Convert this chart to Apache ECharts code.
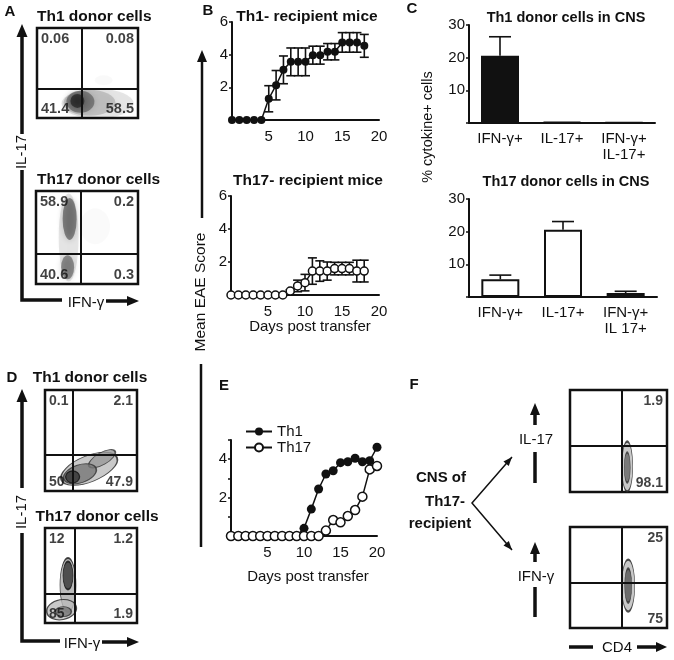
<!DOCTYPE html>
<html><head><meta charset="utf-8">
<script src="https://cdn.jsdelivr.net/npm/echarts@6/dist/echarts.min.js"></script>
<style>html,body{margin:0;padding:0;background:#fff}#c{width:674px;height:660px}</style>
</head><body><div id="c"></div>
<script>
const FONT = '"Liberation Sans", Arial, Helvetica, sans-serif';
const BLACK = '#111';

// ---------- Panel B: mean EAE score, days 0..18 ----------
const daysB = [0,1,2,3,4,5,6,7,8,9,10,11,12,13,14,15,16,17,18];
const th1Recip    = [0,0,0,0,0,1.3,2.13,3.07,3.56,3.56,3.56,3.97,3.97,4.18,4.18,4.75,4.75,4.75,4.54];
const th1RecipErr = [0,0,0,0,0,0.8,0.9,0.85,0.85,0.85,0.85,0.55,0.55,0.5,0.5,0.6,0.6,0.6,0.7];
const th17Recip    = [0,0,0,0,0,0,0,0,0.24,0.55,0.75,1.45,1.45,1.45,1.6,1.6,1.6,1.45,1.45];
const th17RecipErr = [0,0,0,0,0,0,0,0,0.08,0.35,0.5,0.8,0.62,0.55,0.38,0.38,0.38,0.66,0.66];

// ---------- Panel C: % cytokine+ cells ----------
const cytoCats1 = ['IFN-γ+','IL-17+','IFN-γ+\nIL-17+'];
const cytoCats2 = ['IFN-γ+','IL-17+','IFN-γ+\nIL 17+'];
const th1Cns     = [20.6, 0.3, 0.15];
const th1CnsErr  = [5.8, 0, 0];
const th17Cns    = [5.4, 20.6, 1.2];
const th17CnsErr = [1.3, 2.5, 0.55];

// ---------- Panel E: days 0..20 ----------
const daysE = [0,1,2,3,4,5,6,7,8,9,10,11,12,13,14,15,16,17,18,19,20];
const eTh1  = [0,0,0,0,0,0,0,0,0,0,0.4,1.4,2.45,3.23,3.4,3.82,3.87,4.05,3.87,3.92,4.62];
const eTh17 = [0,0,0,0,0,0,0,0,0,0,0,0,0,0.28,0.83,0.71,1.04,1.35,2.05,3.47,3.65];

// ---------- Flow plots: quadrant % [UL, UR, LL, LR], gates [x, y] ----------
const qA1 = ['0.06','0.08','41.4','58.5'];
const qA2 = ['58.9','0.2','40.6','0.3'];
const qD1 = ['0.1','2.1','50','47.9'];
const qD2 = ['12','1.2','85','1.9'];
const qF1 = [null,'1.9',null,'98.1'];
const qF2 = [null,'25',null,'75'];
const gateA1 = [44.5, 32], gateA2 = [43.7, 32], gateD1 = [30, 35.6], gateD2 = [32.6, 31], gateF1 = [53.6, 45], gateF2 = [53.6, 44.6];

// approximate population shapes: [x, y, w, h, rotate, fill, stroke]
const cloudA1 = [[60,16,72,30,0,'rgba(0,0,0,0.12)'],[52,17,52,26,0,'rgba(0,0,0,0.18)'],[43,18,28,22,0,'rgba(0,0,0,0.4)'],[40,19,14,14,0,'rgba(0,0,0,0.6)'],[66,42,18,10,0,'rgba(0,0,0,0.03)']];
const cloudA2 = [[32,50,20,88,0,'rgba(0,0,0,0.12)'],[33,70,14,42,0,'rgba(0,0,0,0.5)'],[31,18,13,24,0,'rgba(0,0,0,0.45)'],[58,62,30,36,0,'rgba(0,0,0,0.025)']];
const cloudD1 = [[48,22,60,26,22,'#bbb','#222'],[62,32,30,12,30,'#999','#333'],[38,17,34,18,18,'#777','#333'],[30,14,14,12,0,'#333','#111']];
const cloudD2 = [[25,40,16,54,0,'#aaa','#111'],[18,14,30,20,10,'#bbb','#222'],[20,12,16,10,0,'#777','#333'],[25,50,10,28,0,'#333','#111']];
const cloudF1 = [[59,25,11,50,0,'#bbb','#222'],[59,24,6,30,0,'#666','#333']];
const cloudF2 = [[60,42,13,52,0,'#bbb','#222'],[60,42,7,34,0,'#555','#333']];

const grids = [
  {left:37,top:28,width:101,height:90},    // 0 A1
  {left:36,top:191,width:102,height:93},   // 1 A2
  {left:45,top:390,width:92,height:101},   // 2 D1
  {left:45,top:528,width:92,height:95},    // 3 D2
  {left:570,top:390,width:97,height:102},  // 4 F1
  {left:570,top:527,width:97,height:101},  // 5 F2
  {left:232,top:22,width:147,height:98},   // 6 B1
  {left:231,top:196,width:148,height:99},  // 7 B2
  {left:469,top:25,width:186,height:98},   // 8 C1
  {left:469,top:199,width:188,height:98},  // 9 C2
  {left:231,top:440,width:146,height:96}   // 10 E
];
const xAxes = [], yAxes = [], series = [];
const gridOpts = grids.map((g,i)=> Object.assign({containLabel:false}, g, i<6 ? {show:true,borderColor:BLACK,borderWidth:2.5} : {}));

const lab = {color:BLACK, fontSize:15, fontFamily:FONT};
function flow(gi, quad, gate, cloud, fs, blur){
  xAxes[gi] = {gridIndex:gi, type:'value', min:0, max:100, show:false};
  yAxes[gi] = {gridIndex:gi, type:'value', min:0, max:100, show:false};
  series.push({type:'scatter', xAxisIndex:gi, yAxisIndex:gi, silent:true, z:2,
    data: cloud.map(c=>({value:[c[0],c[1]], symbolSize:[c[2],c[3]], symbolRotate:c[4],
      itemStyle: blur ? {color:c[5], shadowBlur:6, shadowColor:c[5]} : {color:c[5], borderColor:c[6], borderWidth:1.2}}))});
  const pos = [[0,100,'left','top'],[100,100,'right','top'],[0,0,'left','bottom'],[100,0,'right','bottom']];
  const d = [];
  quad.forEach((t,i)=>{ if(t==null) return;
    d.push({value:[pos[i][0],pos[i][1]], t:t, label:{position:[pos[i][2]==='left'?4:-4, pos[i][3]==='top'?4:-2], align:pos[i][2], verticalAlign:pos[i][3]}});
  });
  series.push({type:'scatter', xAxisIndex:gi, yAxisIndex:gi, silent:true, z:5, symbolSize:0.01,
    itemStyle:{color:'rgba(0,0,0,0)'},
    label:{show:true, formatter:p=>p.data.t, color:BLACK, fontSize:fs, fontWeight:'bold', fontFamily:FONT, lineHeight:fs},
    data:d,
    markLine:{silent:true, symbol:'none', animation:false, label:{show:false},
      lineStyle:{color:BLACK, width:2, type:'solid'}, data:[{xAxis:gate[0]},{yAxis:gate[1]}]}});
}
flow(0,qA1,gateA1,cloudA1,14.5,true);
flow(1,qA2,gateA2,cloudA2,14.5,true);
flow(2,qD1,gateD1,cloudD1,14,false);
flow(3,qD2,gateD2,cloudD2,14,false);
flow(4,qF1,gateF1,cloudF1,14,false);
flow(5,qF2,gateF2,cloudF2,14,false);

const axLine = {show:true, lineStyle:{color:BLACK, width:2}};
function daysAxis(gi){
  return {gridIndex:gi, type:'value', min:0, max:20, interval:5, axisLine:axLine, axisTick:{show:false},
    splitLine:{show:false}, axisLabel:Object.assign({margin:9, formatter:v=>v===0?'':v}, lab)};
}
function scoreAxis(gi, max, interval, shown){
  return {gridIndex:gi, type:'value', min:0, max:max, interval:interval, axisLine:axLine,
    axisTick:{show:true, length:3, lineStyle:{color:BLACK, width:1.5}}, splitLine:{show:false},
    axisLabel:Object.assign({margin:4, formatter:v=>shown.indexOf(v)>=0?String(v):''}, lab)};
}
xAxes[6] = daysAxis(6); yAxes[6] = scoreAxis(6,6,2,[2,4,6]);
xAxes[7] = daysAxis(7); yAxes[7] = scoreAxis(7,6,2,[2,4,6]);
xAxes[10] = daysAxis(10); yAxes[10] = scoreAxis(10,5,1,[2,4]);

function catAxis(gi, cats){
  return {gridIndex:gi, type:'category', data:cats, axisLine:axLine, axisTick:{show:false},
    axisLabel:Object.assign({margin:8, lineHeight:16, interval:0}, lab)};
}
xAxes[8] = catAxis(8, cytoCats1); yAxes[8] = scoreAxis(8,30,10,[10,20,30]);
xAxes[9] = catAxis(9, cytoCats2); yAxes[9] = scoreAxis(9,30,10,[10,20,30]);

function errBars(capW, both){
  return function(params, api){
    const x = api.value(0), lo = api.value(1), hi = api.value(2);
    const a = api.coord([x, lo]), b = api.coord([x, hi]);
    const st = {stroke:BLACK, lineWidth:1.6};
    const ch = [{type:'line', shape:{x1:a[0],y1:a[1],x2:b[0],y2:b[1]}, style:st},
                {type:'line', shape:{x1:b[0]-capW/2,y1:b[1],x2:b[0]+capW/2,y2:b[1]}, style:st}];
    if (both) ch.push({type:'line', shape:{x1:a[0]-capW/2,y1:a[1],x2:a[0]+capW/2,y2:a[1]}, style:st});
    return {type:'group', children:ch};
  };
}
function timeCourse(gi, days, mean, err, filled){
  series.push({type:'custom', xAxisIndex:gi, yAxisIndex:gi, silent:true, z:3,
    renderItem:errBars(9,true), encode:{x:0, y:[1,2]},
    data: days.map((d,i)=>[d, mean[i]-err[i], mean[i]+err[i]]).filter((r,i)=>err[i]>0)});
  series.push({type:'line', xAxisIndex:gi, yAxisIndex:gi, silent:true, z:4,
    data: days.map((d,i)=>[d, mean[i]]), symbol:'circle', symbolSize:8,
    lineStyle:{color:BLACK, width:1.5},
    itemStyle: filled ? {color:BLACK} : {color:'#fff', borderColor:BLACK, borderWidth:1.5}});
}
timeCourse(6, daysB, th1Recip, th1RecipErr, true);
timeCourse(7, daysB, th17Recip, th17RecipErr, false);

function barPanel(gi, vals, errs, fill){
  series.push({type:'bar', xAxisIndex:gi, yAxisIndex:gi, silent:true, barWidth:38, z:3,
    data: vals, itemStyle:{color:fill, borderColor:BLACK, borderWidth:2}});
  series.push({type:'custom', xAxisIndex:gi, yAxisIndex:gi, silent:true, z:4,
    renderItem:errBars(22,false), encode:{x:0, y:[1,2]},
    data: vals.map((v,i)=>[i, v, v+errs[i]]).filter((r,i)=>errs[i]>0)});
}
barPanel(8, th1Cns, th1CnsErr, BLACK);
barPanel(9, th17Cns, th17CnsErr, '#fff');

series.push({name:'Th1', type:'line', xAxisIndex:10, yAxisIndex:10, silent:true, z:4,
  data: daysE.map((d,i)=>[d, eTh1[i]]), symbol:'circle', symbolSize:9,
  lineStyle:{color:BLACK, width:1.5}, itemStyle:{color:BLACK}});
series.push({name:'Th17', type:'line', xAxisIndex:10, yAxisIndex:10, silent:true, z:5,
  data: daysE.map((d,i)=>[d, eTh17[i]]), symbol:'circle', symbolSize:9,
  lineStyle:{color:BLACK, width:1.5}, itemStyle:{color:'#fff', borderColor:BLACK, borderWidth:1.5}});

// ---------- annotations ----------
function T(text, x, y, o){
  o = o || {};
  const al = o.align || 'center';
  return {type:'text', x:x, y:y, rotation:o.rot||0, z:100, silent:true,
    style:{text:text, fill:BLACK, font:(o.bold?'bold ':'')+(o.size||15)+'px '+FONT,
      align:al, verticalAlign:'middle', textAlign:al, textVerticalAlign:'middle'}};
}
function L(points, w){ return {type:'polyline', z:100, silent:true, shape:{points:points}, style:{stroke:BLACK, lineWidth:w, fill:'none'}}; }
function H(tip, dx, dy, len, hw){
  const bx = tip[0]-dx*len, by = tip[1]-dy*len, px = -dy, py = dx;
  return {type:'polygon', z:100, silent:true, shape:{points:[tip,[bx+px*hw,by+py*hw],[bx-px*hw,by-py*hw]]}, style:{fill:BLACK}};
}
const R = Math.PI/2;
const g = [
  T('A',10,12,{bold:true}), T('B',208,11,{bold:true}), T('C',412,9,{bold:true}),
  T('D',12,378,{bold:true}), T('E',224,386,{bold:true}), T('F',414,385,{bold:true}),
  T('Th1 donor cells',37,17,{bold:true,size:15.5,align:'left'}),
  T('Th17 donor cells',37,180,{bold:true,size:15.5,align:'left'}),
  T('Th1- recipient mice',307,17,{bold:true,size:15.5}),
  T('Th17- recipient mice',308,181,{bold:true,size:15.5}),
  T('Th1 donor cells in CNS',566,18,{bold:true,size:14.5}),
  T('Th17 donor cells in CNS',566,182,{bold:true,size:14.5}),
  T('Th1 donor cells',90,378,{bold:true,size:15.5}),
  T('Th17 donor cells',97,517,{bold:true,size:15.5}),
  T('CNS of',441,478,{bold:true}), T('Th17-',445,502,{bold:true}), T('recipient',440,524,{bold:true}),
  T('IL-17',22,152,{rot:R}), T('IFN-γ',86,303),
  T('IL-17',22,512,{rot:R}), T('IFN-γ',82,644),
  T('Mean EAE Score',201,292,{rot:R,size:15.5}),
  T('% cytokine+ cells',428,127,{rot:R,size:14.5}),
  T('Days post transfer',310,327), T('Days post transfer',308,577),
  T('IL-17',536,440), T('IFN-γ',536,577), T('CD4',617,648),
  // A axes
  L([[22,36],[22,134]],3.5), H([22,24],0,-1,13,5.5),
  L([[22,170],[22,300],[62,300]],3.5), L([[106,301],[128,301]],3.5), H([139,301],1,0,12,5),
  // D axes
  L([[22,400],[22,488]],3.5), H([22,389],0,-1,13,5.5),
  L([[22,533],[22,641],[60,641]],3.5), L([[102,642],[128,642]],3.5), H([139,642],1,0,12,5),
  // Mean EAE score arrow
  L([[202,60],[202,218]],2.5), H([202,50],0,-1,12,5), L([[201,364],[201,547]],2.5),
  // F axes
  L([[535,413],[535,425]],3.5), H([535,403],0,-1,12,5), L([[535,452],[535,483]],3.5),
  L([[535,552],[535,562]],3.5), H([535,542],0,-1,12,5), L([[535,587],[535,617]],3.5),
  L([[569,647],[593,647]],3.5), L([[637,647],[658,647]],3.5), H([667,647],1,0,11,5),
  // diagonal arrows
  L([[512,457],[472,503],[512,550]],1.5)
];
(function(){ // diagonal arrow heads
  const s = [[512,457,472,503],[512,550,472,503]];
  s.forEach(a=>{ const dx=a[0]-a[2], dy=a[1]-a[3], n=Math.hypot(dx,dy); g.push(H([a[0],a[1]],dx/n,dy/n,9,3.5)); });
})();

const chart = echarts.init(document.getElementById('c'), null, {renderer:'canvas'});
chart.setOption({
  animation:false, backgroundColor:'#fff',
  textStyle:{fontFamily:FONT},
  grid:gridOpts, xAxis:xAxes, yAxis:yAxes, series:series,
  legend:{data:['Th1','Th17'], orient:'vertical', left:240, top:419, itemWidth:26, itemHeight:10, itemGap:1,
    textStyle:{color:BLACK, fontSize:15, fontFamily:FONT}, selectedMode:false},
  graphic:g
});
</script></body></html>
